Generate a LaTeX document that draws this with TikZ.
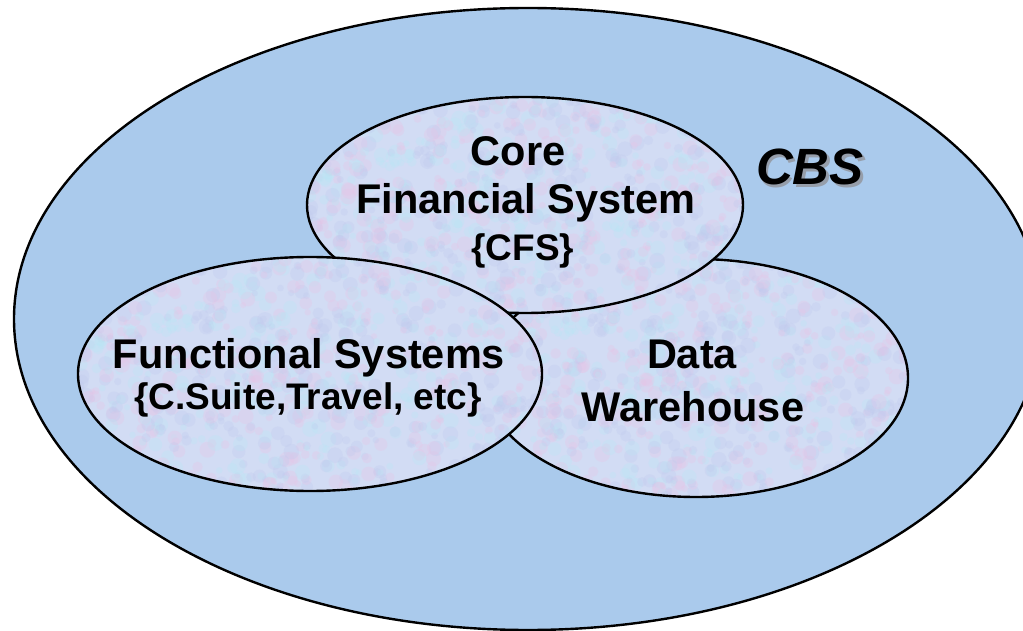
\documentclass[tikz,border=0pt]{standalone}
\usepackage{fontspec}
\setmainfont{Liberation Sans}
\definecolor{outerblue}{RGB}{170,202,236}
\definecolor{innerbase}{RGB}{210,220,244}
\definecolor{mpink}{RGB}{232,196,230}
\definecolor{mcyan}{RGB}{186,230,244}
\definecolor{mlav}{RGB}{192,202,238}
\definecolor{shadowgray}{RGB}{150,158,170}
\newcommand{\mottle}[4]{%
  \pgfmathsetseed{4242}%
  \foreach \i in {1,...,1100}{%
    \pgfmathsetmacro{\px}{#1+#3*rnd}%
    \pgfmathsetmacro{\py}{#2+#4*rnd}%
    \pgfmathsetmacro{\pr}{3+5*rnd}%
    \pgfmathtruncatemacro{\pc}{3*rnd}%
    \ifcase\pc\relax \def\cc{mpink}\or \def\cc{mcyan}\else \def\cc{mlav}\fi
    \fill[\cc, opacity=0.3] (\px,\py) circle[radius=\pr pt];
  }}
\tikzset{
  outline/.style={draw=black, line width=2.4pt},
  bigtext/.style={inner sep=0pt, anchor=base, font=\fontsize{41.5pt}{47pt}\selectfont\bfseries},
  smalltext/.style={inner sep=0pt, anchor=base, font=\fontsize{37pt}{42pt}\selectfont\bfseries},
  cbstext/.style={inner sep=0pt, anchor=base, font=\fontsize{51pt}{56pt}\selectfont\bfseries\itshape}
}
\begin{document}
\begin{tikzpicture}[x=1pt,y=-1pt]
\useasboundingbox (0,0) rectangle (1023,631);
\clip (0,0) rectangle (1023,631);
\fill[white] (0,0) rectangle (1023,631);
% outer CBS ellipse
\path[fill=outerblue, outline] (528,319) ellipse[x radius=514pt, y radius=311pt];
% Data Warehouse ellipse
\begin{scope}
  \clip (696,378) ellipse[x radius=212pt, y radius=119pt];
  \fill[innerbase] (480,255) rectangle (912,500);
  \mottle{480}{255}{432}{245}
\end{scope}
\draw[outline] (696,378) ellipse[x radius=212pt, y radius=119pt];
% Core Financial System ellipse
\begin{scope}
  \clip (525,205) ellipse[x radius=218pt, y radius=108pt];
  \fill[innerbase] (303,93) rectangle (747,317);
  \mottle{303}{93}{444}{224}
\end{scope}
\draw[outline] (525,205) ellipse[x radius=218pt, y radius=108pt];
% Functional Systems ellipse
\begin{scope}
  \clip (310,374) ellipse[x radius=232pt, y radius=117pt];
  \fill[innerbase] (74,253) rectangle (546,495);
  \mottle{74}{253}{472}{242}
\end{scope}
\draw[outline] (310,374) ellipse[x radius=232pt, y radius=117pt];
% texts
\node[bigtext] (core1) at (518,166) {Core};
\node[bigtext] (core2) at (526,214) {Financial System};
\node[smalltext] (core3) at (523,261) {\{CFS\}};
\node[bigtext] (fun1) at (309,368) {Functional Systems};
\node[smalltext] (fun2) at (308,409) {\{C.Suite,Travel, etc\}};
\node[bigtext] (dw1) at (692,368) {Data};
\node[bigtext] (dw2) at (693,421) {Warehouse};
\node[cbstext, text=shadowgray] (cbsshadow) at (812.5,187.5) {CBS};
\node[cbstext] (cbs) at (810,185) {CBS};
\end{tikzpicture}
\end{document}
